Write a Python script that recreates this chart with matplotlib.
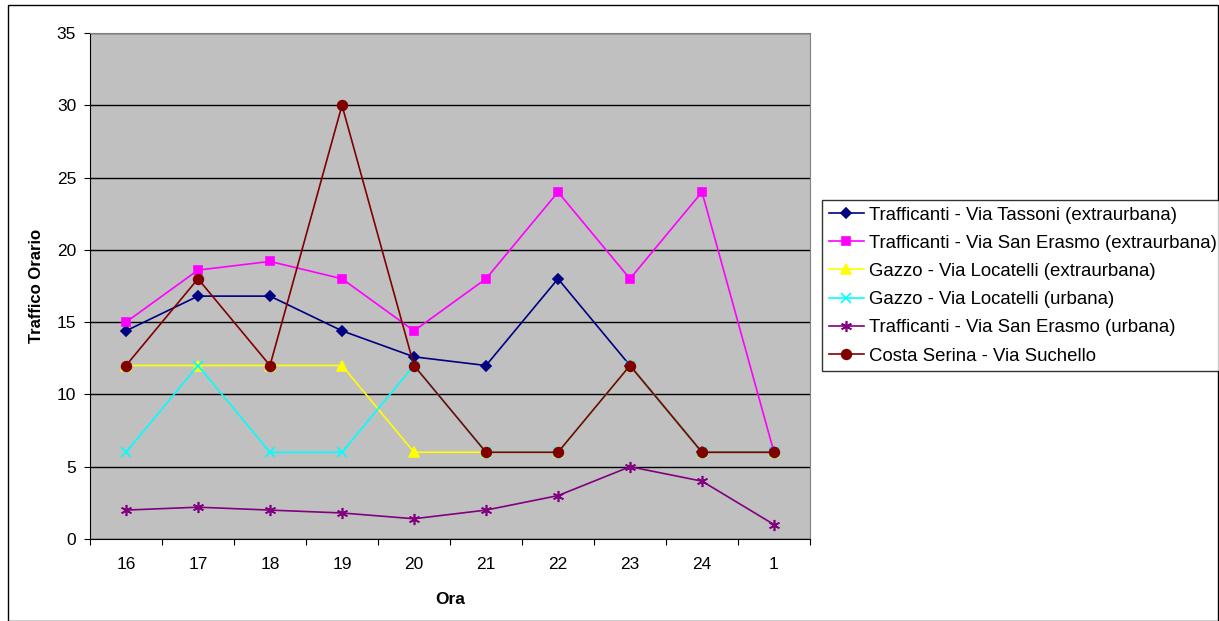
import numpy as np
import matplotlib
matplotlib.use("Agg")
import matplotlib.pyplot as plt

plt.rcParams['font.family'] = ['Liberation Sans', 'DejaVu Sans']

# categories (hours)
ore = ["16", "17", "18", "19", "20", "21", "22", "23", "24", "1"]

tassoni_extra = [14.4, 16.8, 16.8, 14.4, 12.6, 12, 18, 12, 6, 6]
san_erasmo_extra = [15, 18.6, 19.2, 18, 14.4, 18, 24, 18, 24, 6]
gazzo_extra = [12, 12, 12, 12, 6, 6, 6, 12, 6, 6]
gazzo_urbana = [6, 12, 6, 6, 12, 6, 6, 12, 6, 6]
san_erasmo_urbana = [2, 2.2, 2, 1.8, 1.4, 2, 3, 5, 4, 1]
costa_serina = [12, 18, 12, 30, 12, 6, 6, 12, 6, 6]

series = [
    ("Trafficanti - Via Tassoni (extraurbana)", tassoni_extra, "#000080", "D", 5),
    ("Trafficanti - Via San Erasmo (extraurbana)", san_erasmo_extra, "#FF00FF", "s", 6),
    ("Gazzo - Via Locatelli (extraurbana)", gazzo_extra, "#FFFF00", "^", 7),
    ("Gazzo - Via Locatelli (urbana)", gazzo_urbana, "#00FFFF", "x", 7),
    ("Trafficanti - Via San Erasmo (urbana)", san_erasmo_urbana, "#800080", (6, 2, 0), 8),
    ("Costa Serina - Via Suchello", costa_serina, "#800000", "o", 7),
]

fig = plt.figure(figsize=(12.19, 6.21), dpi=100)
ax = fig.add_axes([90 / 1219, 1 - 539 / 621, 720 / 1219, 506 / 621])
ax.set_facecolor("#C0C0C0")

x = np.arange(len(ore))
for name, vals, col, mk, ms in series:
    ax.plot(x, vals, color=col, marker=mk, markersize=ms, linewidth=1.2,
            markeredgewidth=1.2, label=name)

ax.set_xlim(-0.5, len(ore) - 0.5)
ax.set_ylim(0, 35)
ax.set_yticks(np.arange(0, 36, 5))
ax.yaxis.grid(True, color="black", linewidth=1)
ax.set_axisbelow(True)

ax.set_xticks(np.arange(-0.5, len(ore), 1))
ax.set_xticklabels([])
ax.set_xticks(x, minor=True)
ax.set_xticklabels(ore, minor=True)
ax.tick_params(axis="x", which="minor", length=0, pad=13, labelsize=12.5)
ax.tick_params(axis="x", which="major", length=4, direction="out")
ax.tick_params(axis="y", length=4, direction="out", labelsize=12.5, pad=6)

ax.spines["top"].set_color("#808080")
ax.spines["right"].set_color("#808080")

ax.set_xlabel("Ora", fontweight="bold", fontsize=12.5, labelpad=14)
ax.set_ylabel("Traffico Orario", fontweight="bold", fontsize=12, labelpad=9)

leg = fig.legend(loc="upper left", bbox_to_anchor=(822 / 1219, 1 - 200 / 621),
                 fontsize=13.4, frameon=True, fancybox=False, edgecolor="black",
                 handlelength=1.9, borderpad=0.35, labelspacing=0.6,
                 handletextpad=0.3, borderaxespad=0)
leg.get_frame().set_linewidth(1)

# outer chart border
fig.patches.append(plt.Rectangle((8 / 1219, 0), 1 - 9 / 1219, 1 - 5 / 621,
                                 transform=fig.transFigure, fill=False,
                                 edgecolor="black", linewidth=1))

fig.savefig("out.png", dpi=100)
